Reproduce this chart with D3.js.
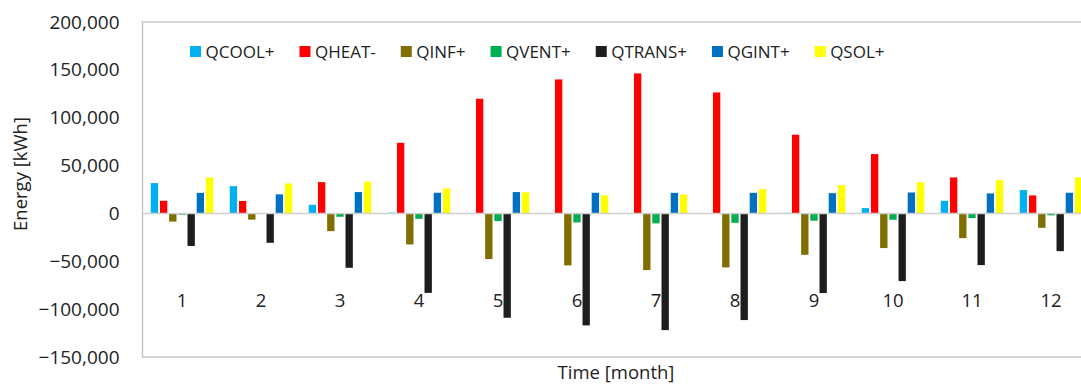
<!DOCTYPE html>
<html>
<head>
<meta charset="utf-8">
<script src="https://cdn.jsdelivr.net/npm/d3@7"></script>
<style>
  html, body { margin: 0; padding: 0; background: #fff; overflow: hidden; }
  svg { display: block; font-family: "Open Sans", "DejaVu Sans", sans-serif; }
</style>
</head>
<body>
<svg id="chart" width="1081" height="385"></svg>
<script>
const months = ["1","2","3","4","5","6","7","8","9","10","11","12"];
const seriesNames = ["QCOOL+","QHEAT-","QINF+","QVENT+","QTRANS+","QGINT+","QSOL+"];
const seriesColors = ["#00B0F0","#FF0000","#7F6F00","#00B050","#1E1E1E","#0070C0","#FFFF00"];
const qcool  = [31700, 28500, 9000, 800, 0, 0, 0, 0, 600, 5600, 13200, 24400];
const qheat  = [13200, 13000, 32700, 73800, 119800, 140000, 146300, 126400, 82200, 62000, 37600, 18800];
const qinf   = [-8500, -6500, -18500, -32400, -47700, -54300, -59200, -56400, -43200, -36200, -25800, -15000];
const qvent  = [-1300, -300, -3500, -5600, -8000, -9400, -10400, -9800, -7600, -6600, -4900, -2000];
const qtrans = [-34000, -30700, -56800, -83000, -109000, -117000, -121900, -111400, -83200, -70700, -54000, -39400];
const qgint  = [21500, 19900, 22300, 21600, 22300, 21600, 21500, 21500, 21200, 21900, 20900, 21600];
const qsol   = [37600, 31300, 33100, 26100, 22000, 18800, 19800, 25400, 29600, 32700, 34800, 37600];
const yTicks = [-150000, -100000, -50000, 0, 50000, 100000, 150000, 200000];

const seriesValues = [qcool, qheat, qinf, qvent, qtrans, qgint, qsol];
const rows = [];
months.forEach((m, i) => seriesNames.forEach((s, j) => rows.push({month: m, series: s, value: seriesValues[j][i], color: seriesColors[j]})));

const svg = d3.select("#chart");
const plotLeft = 142.5, plotTop = 22, plotBottom = 357, bandW = 79;
const plotRight = plotLeft + bandW * months.length;

const y = d3.scaleLinear().domain([-150000, 200000]).range([plotBottom, plotTop]);
const x0 = d3.scaleBand().domain(months).range([plotLeft, plotRight]).padding(0);
const x1 = d3.scaleBand().domain(seriesNames).range([0, x0.bandwidth()]).paddingInner(0.2).paddingOuter(0.9);

// plot border
svg.append("rect").attr("x", plotLeft).attr("y", plotTop).attr("width", plotRight - plotLeft + 10).attr("height", plotBottom - plotTop)
  .attr("fill", "none").attr("stroke", "#BFBFBF").attr("stroke-width", 1.3);

// bars
svg.append("g").selectAll("rect").data(rows).join("rect")
  .attr("x", d => x0(d.month) + x1(d.series))
  .attr("width", x1.bandwidth())
  .attr("y", d => y(Math.max(0, d.value)))
  .attr("height", d => Math.abs(y(d.value) - y(0)))
  .attr("fill", d => d.color);

// zero line
svg.append("line").attr("x1", plotLeft).attr("x2", plotRight + 10).attr("y1", y(0)).attr("y2", y(0))
  .attr("stroke", "#D0D0D0").attr("stroke-width", 1.5);

// y axis
const yAxis = svg.append("g").attr("transform", `translate(${plotLeft},0)`)
  .call(d3.axisLeft(y).tickValues(yTicks).tickFormat(d3.format(",")).tickSize(0).tickPadding(23));
yAxis.select(".domain").remove();
yAxis.selectAll("text").attr("font-size", 19).attr("fill", "#222").attr("font-family", "Open Sans");

// x axis (month labels)
const xAxis = svg.append("g").attr("transform", `translate(0,${294})`)
  .call(d3.axisBottom(x0).tickSize(0).tickPadding(0));
xAxis.select(".domain").remove();
xAxis.selectAll("text").attr("font-size", 18.5).attr("fill", "#222").attr("font-family", "Open Sans");

// axis titles
svg.append("text").attr("transform", `translate(27,174) rotate(-90)`).attr("text-anchor", "middle")
  .attr("font-size", 18.5).attr("fill", "#222").text("Energy [kWh]");
svg.append("text").attr("x", 616).attr("y", 379).attr("text-anchor", "middle")
  .attr("font-size", 18.5).attr("fill", "#222").text("Time [month]");

// legend
const legend = svg.append("g");
let lx = 190;
seriesNames.forEach((s, j) => {
  const g = legend.append("g").attr("transform", `translate(${lx},46)`);
  g.append("rect").attr("width", 11).attr("height", 11).attr("fill", seriesColors[j]);
  const t = g.append("text").attr("x", 15.5).attr("y", 11.5).attr("font-size", 17).attr("fill", "#222").text(s);
  lx += 15.5 + t.node().getComputedTextLength() + 25;
});
</script>
</body>
</html>
